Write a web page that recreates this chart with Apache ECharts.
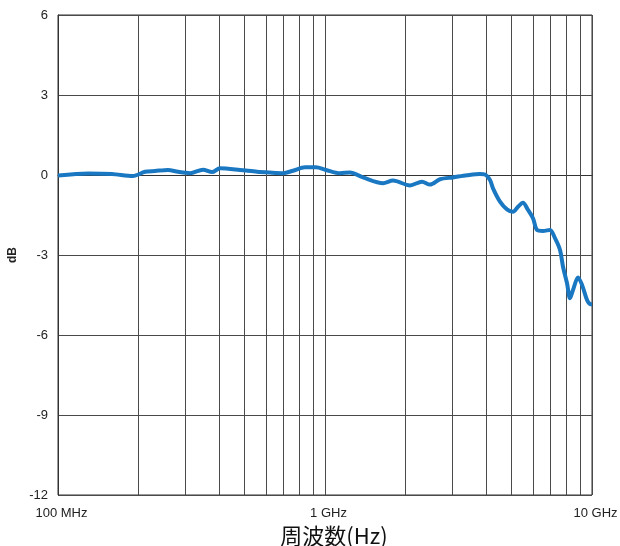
<!DOCTYPE html>
<html>
<head>
<meta charset="utf-8">
<script src="https://cdn.jsdelivr.net/npm/echarts@6/dist/echarts.min.js"></script>
<style>html,body{margin:0;padding:0;background:#fff}#c{width:620px;height:546px}</style>
</head>
<body>
<div id="c"></div>
<script>
// Frequency in MHz
const freqMHz = [100,129.6,159.3,190.9,211.8,230.8,258.2,281.4,312.2,349.2,377.4,404.5,480.4,556.5,622.3,696.0,758.9,841.6,925.3,1008.7,1138,1241,1388,1649,1798,2082,2308,2474,2696,3015,3402,3806,3974,4149,4258,4523,4803,5059,5282,5515,5758,6012,6223,6553,6960,7267,7589,7788,8062,8273,8490,8865,9176,9580,9829,10000];
// Response in dB
const gainDb = [-0.02,0.06,0.04,-0.04,0.12,0.15,0.19,0.12,0.07,0.2,0.11,0.25,0.19,0.12,0.09,0.07,0.16,0.29,0.29,0.19,0.07,0.09,-0.09,-0.31,-0.21,-0.39,-0.25,-0.36,-0.16,-0.09,-0.01,0.04,0.02,-0.19,-0.5,-1.0,-1.29,-1.38,-1.19,-1.04,-1.31,-1.62,-2.06,-2.1,-2.06,-2.37,-2.81,-3.44,-4.06,-4.62,-4.31,-3.84,-4.12,-4.69,-4.84,-4.85];
// Minor vertical grid positions (MHz)
const minorGridMHz = [200,300,400,500,600,700,800,900,2000,3000,4000,5000,6000,7000,8000,9000];
const yTicks = {min: -12, max: 6, interval: 3};
const xLabels = {100: '100 MHz', 1000: '1 GHz', 10000: '10 GHz'};

const chart = echarts.init(document.getElementById('c'));
const gridColor = '#4a4a4a';
chart.setOption({
  animation: false,
  grid: {left: 58, right: 28, top: 15, bottom: 51, outerBoundsMode: 'none', containLabel: false,
    show: true, borderColor: '#333', borderWidth: 1},
  xAxis: {
    type: 'log', logBase: 10, min: 100, max: 10000,
    name: '周波数(Hz)', nameLocation: 'middle', nameGap: 20,
    nameTextStyle: {fontSize: 22, color: '#111', fontFamily: 'Noto Sans CJK JP', padding: [0, 0, 0, 18]},
    axisLine: {show: true, lineStyle: {color: '#333', width: 1}},
    axisTick: {show: false},
    axisLabel: {fontSize: 13, color: '#222', fontFamily: 'Liberation Sans', margin: 12, padding: [0, 0, 0, 7],
      formatter: v => xLabels[Math.round(v)] || ''},
    splitLine: {show: true, lineStyle: {color: gridColor, width: 1}}
  },
  yAxis: {
    type: 'value', min: yTicks.min, max: yTicks.max, interval: yTicks.interval,
    name: 'dB', nameLocation: 'middle', nameGap: 38,
    nameTextStyle: {fontSize: 12, fontWeight: 'bold', color: '#222', fontFamily: 'Liberation Sans'},
    axisLine: {show: true, lineStyle: {color: '#333', width: 1}},
    axisTick: {show: false},
    axisLabel: {fontSize: 13, color: '#222', fontFamily: 'Liberation Sans', margin: 10},
    splitLine: {show: true, lineStyle: {color: gridColor, width: 1}}
  },
  series: [{
    type: 'line',
    data: freqMHz.map((f, i) => [f, gainDb[i]]),
    showSymbol: false,
    smooth: 0.3,
    lineStyle: {color: '#1a78c2', width: 4},
    z: 5,
    markLine: {
      silent: true, symbol: 'none', label: {show: false},
      lineStyle: {color: gridColor, width: 1, type: 'solid'},
      data: minorGridMHz.map(v => ({xAxis: v})),
      z: 1
    }
  }]
});
</script>
</body>
</html>
